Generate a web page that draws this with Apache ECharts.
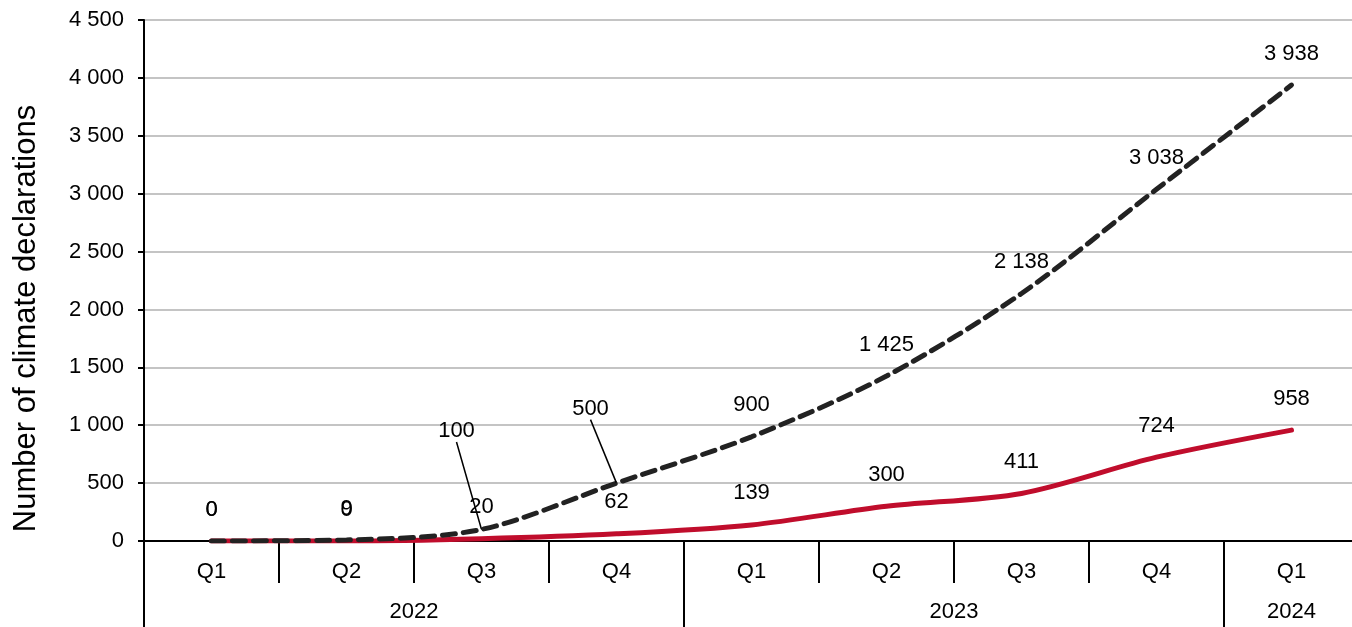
<!DOCTYPE html>
<html>
<head>
<meta charset="utf-8">
<script src="https://cdn.jsdelivr.net/npm/echarts@6/dist/echarts.min.js"></script>
<style>
  html, body { margin: 0; padding: 0; background: #fff; }
  #chart { width: 1352px; height: 627px; }
</style>
</head>
<body>
<div id="chart"></div>
<script>
// Quarterly categories and the year groups they belong to
const quarters = ['Q1', 'Q2', 'Q3', 'Q4', 'Q1', 'Q2', 'Q3', 'Q4', 'Q1'];
const years = ['2022', '2023', '2024'];
const yearCentres = [2, 6, 8.5];      // centre of each year group, in category units
const yearBounds = [0, 4, 8, 9];      // group separators, in category units

// Series values
const projected = [0, 9, 100, 500, 900, 1425, 2138, 3038, 3938];
const actual = [0, 0, 20, 62, 139, 300, 411, 724, 958];

// Y axis ticks
const yMin = 0, yMax = 4500, yStep = 500;

const FONT = 'Liberation Sans, Arial, sans-serif';
const LABEL_SIZE = 22;
const fmt = v => String(Math.round(v)).replace(/\B(?=(\d{3})+(?!\d))/g, ' ');

// Labels that sit away from their points and get a guide line
const movedLabels = { 2: [-25, -67], 3: [-26, -43] };

const chart = echarts.init(document.getElementById('chart'));
chart.setOption({
  animation: false,
  backgroundColor: '#fff',
  grid: { left: 144, top: 20, right: -7, bottom: 86, containLabel: false, outerBoundsMode: 'none' },
  xAxis: [
    {
      type: 'category',
      data: quarters,
      boundaryGap: true,
      axisLine: { show: true, lineStyle: { color: '#000', width: 2 } },
      axisTick: { show: true, length: 42, lineStyle: { color: '#000', width: 2 } },
      axisLabel: { color: '#000', fontFamily: FONT, fontSize: LABEL_SIZE, margin: 20 },
      splitLine: { show: false }
    },
    {
      type: 'value',
      position: 'bottom',
      min: 0, max: 9,
      axisLine: { show: false },
      axisTick: { show: true, customValues: yearBounds, length: 90, lineStyle: { color: '#000', width: 2 } },
      axisLabel: {
        show: true, customValues: yearCentres, color: '#000', fontFamily: FONT, fontSize: LABEL_SIZE, margin: 60,
        formatter: v => years[yearCentres.indexOf(v)]
      },
      splitLine: { show: false }
    }
  ],
  yAxis: {
    type: 'value',
    min: yMin, max: yMax, interval: yStep,
    name: 'Number of climate declarations',
    nameLocation: 'middle',
    nameGap: 102,
    nameTextStyle: { color: '#000', fontFamily: FONT, fontSize: 31, padding: [0, 76, 0, 0] },
    axisLine: { show: true, lineStyle: { color: '#000', width: 2 } },
    axisTick: { show: true, length: 6, lineStyle: { color: '#000', width: 2 } },
    axisLabel: { color: '#000', fontFamily: FONT, fontSize: LABEL_SIZE, margin: 20, formatter: fmt },
    splitLine: { show: true, lineStyle: { color: '#c4c4c4', width: 2 } }
  },
  series: [
    {
      name: 'Actual',
      type: 'line',
      xAxisIndex: 0,
      data: actual,
      smooth: 0.3,
      symbol: 'circle',
      symbolSize: 1,
      itemStyle: { color: '#c00d2c' },
      z: 2,
      lineStyle: { color: '#c00d2c', width: 5, cap: 'round' },
      label: { show: true, position: 'top', distance: 20, color: '#000', fontFamily: FONT, fontSize: LABEL_SIZE, formatter: p => fmt(p.value) }
    },
    {
      name: 'Projected',
      type: 'line',
      xAxisIndex: 0,
      data: projected.map((v, i) => movedLabels[i]
        ? { value: v, labelLine: { show: true, lineStyle: { color: '#000', width: 1.5 } } }
        : v),
      smooth: 0.3,
      symbol: 'circle',
      symbolSize: 1,
      itemStyle: { color: '#222' },
      z: 3,
      lineStyle: { color: '#222', width: 5, type: [13, 8], cap: 'round' },
      label: { show: true, position: 'top', distance: 20, color: '#000', fontFamily: FONT, fontSize: LABEL_SIZE, formatter: p => fmt(p.value) },
      labelLine: { show: false, lineStyle: { color: '#000', width: 1.5 } },
      labelLayout: p => movedLabels[p.dataIndex]
        ? { dx: movedLabels[p.dataIndex][0], dy: movedLabels[p.dataIndex][1] }
        : {}
    }
  ]
});
</script>
</body>
</html>
